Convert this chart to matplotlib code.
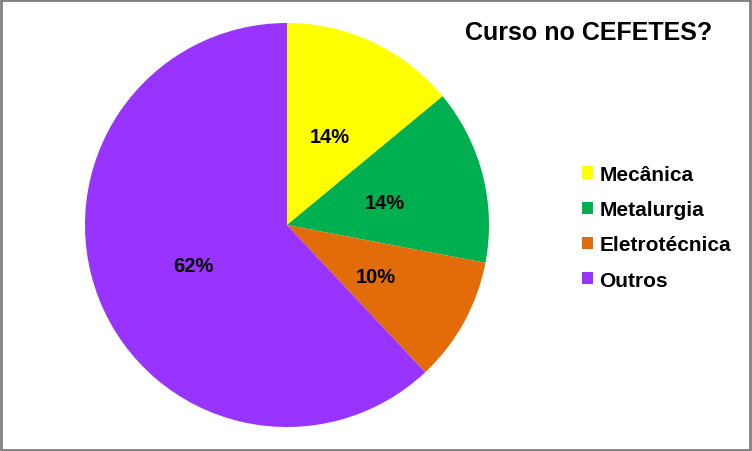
import matplotlib.pyplot as plt
from matplotlib.patches import Rectangle

plt.rcParams['font.family'] = ['Liberation Sans', 'DejaVu Sans']

categories = ['Mecânica', 'Metalurgia', 'Eletrotécnica', 'Outros']
shares = [14, 14, 10, 62]
colors = ['#FFFF00', '#00B050', '#E36C0A', '#9933FF']
title = 'Curso no CEFETES?'

fig = plt.figure(figsize=(7.52, 4.52), dpi=100)
ax = fig.add_axes([0, 0, 1, 1])

wedges, texts, autotexts = ax.pie(
    shares, colors=colors, startangle=90, counterclock=False,
    center=(287, 226), radius=202, autopct='%d%%', pctdistance=0.5,
    textprops=dict(fontsize=14.5, fontweight='bold', color='black'),
    frame=True)
for t in autotexts:
    x, y = t.get_position()
    t.set_position((x, y - 3))
ax.set_xlim(0, 752)
ax.set_ylim(0, 452)
ax.axis('off')

ax.text(589, 419, title, ha='center', va='center', fontsize=18,
        fontweight='bold')

ax.legend(wedges, categories, loc='center left', bbox_to_anchor=(0.749, 0.495),
          frameon=False, prop=dict(weight='bold', size=15),
          handlelength=0.53, handleheight=0.53, handletextpad=0.3,
          labelspacing=0.78)

fig.add_artist(Rectangle((0.001, 0.002), 0.997, 0.995, transform=fig.transFigure,
                         fill=False, edgecolor='#808080', linewidth=2))

fig.savefig('out.png', dpi=100)
